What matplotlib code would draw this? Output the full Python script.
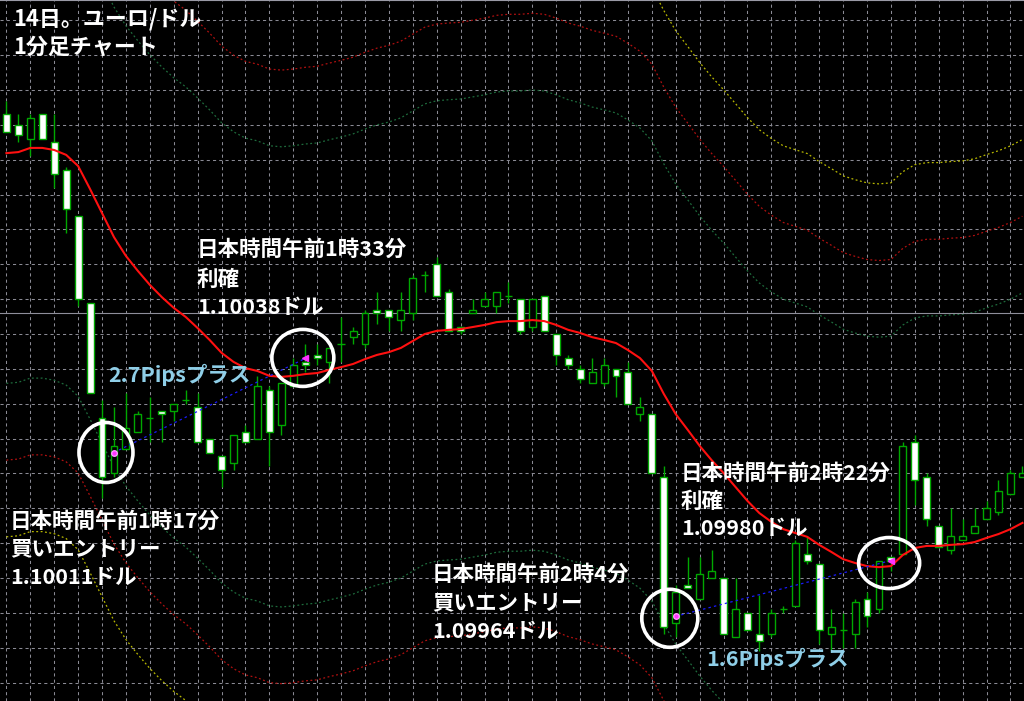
## EUR/USD 1-minute chart (MT4 style) with two trades marked

import numpy as np
import matplotlib
matplotlib.use('Agg')
import matplotlib.pyplot as plt
from matplotlib.patches import Ellipse

plt.rcParams['font.family'] = ['Noto Sans CJK JP', 'DejaVu Sans']

## candles, one per minute, left to right
opens = [1.10108, 1.10105, 1.10101, 1.10108, 1.10100, 1.10092, 1.10079, 1.10054, 1.10021, 1.10005,
         1.10012, 1.10017, 1.10021, 1.10023, 1.10023, 1.10026, 1.10024, 1.10015, 1.10010, 1.10008,
         1.10017, 1.10015, 1.10029, 1.10019, 1.10030, 1.10037, 1.10039, 1.10037, 1.10042, 1.10044,
         1.10042, 1.10052, 1.10052, 1.10049, 1.10051, 1.10062, 1.10065, 1.10057, 1.10047, 1.10051,
         1.10053, 1.10053, 1.10056, 1.10055, 1.10047, 1.10056, 1.10045, 1.10038, 1.10035, 1.10031,
         1.10031, 1.10035, 1.10034, 1.10022, 1.10022, 1.10004, 1.09962, 1.09973, 1.09969, 1.09975,
         1.09975, 1.09958, 1.09965, 1.09959, 1.09959, 1.09966, 1.09967, 1.09982, 1.09979, 1.09959,
         1.09960, 1.09959, 1.09969, 1.09966, 1.09981, 1.09982, 1.10014, 1.10004, 1.09990, 1.09983,
         1.09986, 1.09988, 1.09992, 1.09994, 1.09999, 1.10004]
highs = [1.10112, 1.10108, 1.10108, 1.10108, 1.10108, 1.10093, 1.10079, 1.10054, 1.10026, 1.10024,
         1.10028, 1.10023, 1.10027, 1.10023, 1.10025, 1.10029, 1.10028, 1.10015, 1.10010, 1.10016,
         1.10019, 1.10033, 1.10030, 1.10031, 1.10038, 1.10042, 1.10042, 1.10041, 1.10050, 1.10047,
         1.10052, 1.10057, 1.10052, 1.10057, 1.10062, 1.10063, 1.10067, 1.10058, 1.10047, 1.10055,
         1.10057, 1.10057, 1.10060, 1.10055, 1.10055, 1.10056, 1.10045, 1.10039, 1.10036, 1.10038,
         1.10038, 1.10035, 1.10037, 1.10027, 1.10022, 1.10007, 1.09973, 1.09981, 1.09981, 1.09983,
         1.09975, 1.09975, 1.09965, 1.09970, 1.09966, 1.09967, 1.09986, 1.09987, 1.09979, 1.09966,
         1.09965, 1.09969, 1.09971, 1.09980, 1.09981, 1.10014, 1.10016, 1.10005, 1.09990, 1.09995,
         1.09992, 1.09995, 1.09997, 1.10003, 1.10006, 1.10007]
lows = [1.10103, 1.10100, 1.10096, 1.10101, 1.10087, 1.10074, 1.10053, 1.10028, 1.09998, 1.10004,
        1.10012, 1.10017, 1.10014, 1.10014, 1.10020, 1.10025, 1.10014, 1.10011, 1.10001, 1.10006,
        1.10014, 1.10015, 1.10007, 1.10016, 1.10030, 1.10034, 1.10036, 1.10031, 1.10037, 1.10042,
        1.10041, 1.10048, 1.10046, 1.10046, 1.10049, 1.10057, 1.10056, 1.10046, 1.10045, 1.10051,
        1.10053, 1.10051, 1.10054, 1.10045, 1.10046, 1.10046, 1.10036, 1.10035, 1.10031, 1.10031,
        1.10030, 1.10027, 1.10025, 1.10020, 1.10005, 1.09959, 1.09958, 1.09972, 1.09969, 1.09975,
        1.09959, 1.09958, 1.09960, 1.09954, 1.09958, 1.09965, 1.09967, 1.09979, 1.09956, 1.09954,
        1.09955, 1.09955, 1.09961, 1.09965, 1.09977, 1.09982, 1.09996, 1.09990, 1.09984, 1.09982,
        1.09986, 1.09988, 1.09992, 1.09993, 1.09999, 1.10004]
closes = [1.10103, 1.10102, 1.10107, 1.10101, 1.10091, 1.10081, 1.10055, 1.10028, 1.10004, 1.10013,
          1.10018, 1.10022, 1.10021, 1.10022, 1.10025, 1.10026, 1.10014, 1.10011, 1.10006, 1.10016,
          1.10014, 1.10030, 1.10017, 1.10031, 1.10036, 1.10036, 1.10038, 1.10041, 1.10042, 1.10046,
          1.10051, 1.10051, 1.10050, 1.10052, 1.10061, 1.10062, 1.10056, 1.10046, 1.10046, 1.10052,
          1.10055, 1.10057, 1.10056, 1.10046, 1.10055, 1.10046, 1.10039, 1.10036, 1.10032, 1.10034,
          1.10036, 1.10033, 1.10025, 1.10024, 1.10005, 1.09961, 1.09971, 1.09972, 1.09976, 1.09977,
          1.09959, 1.09966, 1.09960, 1.09957, 1.09965, 1.09966, 1.09985, 1.09980, 1.09960, 1.09961,
          1.09960, 1.09968, 1.09964, 1.09980, 1.09980, 1.10013, 1.10003, 1.09992, 1.09984, 1.09987,
          1.09987, 1.09990, 1.09995, 1.10000, 1.10005, 1.10005]

## moving average (red line)
ma = [1.100969, 1.100972, 1.100984, 1.100984, 1.100978, 1.100964, 1.100932, 1.100866, 1.100797, 1.100728,
      1.100674, 1.100631, 1.100591, 1.100556, 1.100525, 1.100499, 1.100467, 1.100433, 1.100396, 1.100370,
      1.100352, 1.100344, 1.100330, 1.100327, 1.100330, 1.100335, 1.100338, 1.100347, 1.100355, 1.100364,
      1.100378, 1.100390, 1.100398, 1.100410, 1.100430, 1.100450, 1.100459, 1.100462, 1.100464, 1.100470,
      1.100476, 1.100484, 1.100487, 1.100487, 1.100490, 1.100487, 1.100476, 1.100462, 1.100453, 1.100441,
      1.100433, 1.100424, 1.100404, 1.100381, 1.100344, 1.100278, 1.100220, 1.100175, 1.100129, 1.100088,
      1.100051, 1.100011, 1.099971, 1.099936, 1.099911, 1.099890, 1.099879, 1.099868, 1.099845, 1.099825,
      1.099804, 1.099793, 1.099784, 1.099781, 1.099784, 1.099816, 1.099836, 1.099842, 1.099842, 1.099845,
      1.099847, 1.099853, 1.099865, 1.099876, 1.099890, 1.099908]

## envelope widths (fraction of the average): green, red, yellow
env_width = [0.0006, 0.0008, 0.0010]
env_color = ['#1e6b3c', '#b01010', '#b8b800']

bid_price = 1.10051

## trades: (entry bar, entry price, exit bar, exit price)
trades = [(9, 1.10011, 25, 1.10038), (56, 1.09964, 74, 1.09980)]

W, H = 1024, 701
fig = plt.figure(figsize=(W / 100, H / 100), dpi=100, facecolor='black')
ax = fig.add_axes([0, 0, 1, 1], facecolor='black')

n = len(opens)
x = np.arange(n)
bar_px = 11.953           # pixels per bar
pip_px = 34.85            # pixels per pip
ax.set_xlim(-6.4 / bar_px, (W - 6.4) / bar_px)
ax.set_ylim(1.10011 - (H - 452.5) / pip_px * 0.0001, 1.10011 + 452.5 / pip_px * 0.0001)

## grid
ax.set_xticks(x[::2])
ax.set_yticks(np.round(np.arange(1.09945, 1.10140, 0.0001), 5))
ax.grid(True, color='#8a8a94', linestyle=(0, (3, 3)), linewidth=0.75)
ax.tick_params(length=0, labelbottom=False, labelleft=False)
for s in ['left', 'right', 'bottom']:
    ax.spines[s].set_visible(False)
ax.spines['top'].set_color('#9a9aa6')
ax.set_axisbelow(True)

ma_arr = np.array(ma)
for w, c in zip(env_width, env_color):
    ax.plot(x, ma_arr * (1 + w), color=c, ls=(0, (1.5, 2)), lw=0.9, zorder=1)
    ax.plot(x, ma_arr * (1 - w), color=c, ls=(0, (1.5, 2)), lw=0.9, zorder=1)

ax.axhline(bid_price, color='#8e8e9a', lw=0.8, zorder=1)

## candles
green = '#00a800'
ax.vlines(x, lows, highs, color=green, lw=1.0, zorder=2)
for i in range(n):
    o, c = opens[i], closes[i]
    if o == c:
        ax.hlines(o, i - 0.3, i + 0.3, color=green, lw=1.0, zorder=3)
        continue
    face = 'white' if c < o else 'black'
    ax.bar(i, abs(c - o), bottom=min(o, c), width=0.58, facecolor=face,
           edgecolor=green, linewidth=1.0, zorder=3)

ax.plot(x, ma, color='#ff1010', lw=1.5, zorder=4)

## trades
circle_px = [(-0.67, 0.0, 54, 60), (-0.2, -0.5, 62, 57), (-0.5, 2.0, 56, 58), (-0.15, 2.5, 61, 51)]
ci = 0
for e_i, e_p, x_i, x_p in trades:
    ax.plot([e_i, x_i], [e_p, x_p], color='#1a1aff', ls=(0, (2, 2.5)), lw=0.9, zorder=5)
    ax.plot(e_i, e_p, marker='o', ms=4, color='#ff33ff', mec='#ff99ff', zorder=6)
    ax.plot(x_i, x_p, marker='<', ms=5, color='#ff33ff', zorder=6)
    for bi, bp in [(e_i, e_p), (x_i, x_p)]:
        dx, dy, wpx, hpx = circle_px[ci]
        ci += 1
        ax.add_patch(Ellipse((bi + dx, bp - dy / pip_px * 0.0001), wpx / bar_px,
                             hpx / pip_px * 0.0001, fill=False, ec='white', lw=2.6, zorder=7))

## text
def label(px, py, s, color='white', size=15.5):
    fig.text(px / W, 1 - py / H, s, color=color, fontsize=size, fontweight='bold',
             ha='left', va='center')

label(13, 19, '14日。ユーロ/ドル', size=15.8)
label(13, 47, '1分足チャート', size=15.8)

label(197, 249, '日本時間午前1時33分')
label(197, 279, '利確')
label(197, 307, '1.10038ドル')
label(108, 375, '2.7Pipsプラス', color='#8fcfe8')

label(10, 521, '日本時間午前1時17分')
label(10, 549, '買いエントリー')
label(10, 577, '1.10011ドル')

label(432, 574, '日本時間午前2時4分')
label(432, 603, '買いエントリー')
label(432, 631, '1.09964ドル')

label(681, 473, '日本時間午前2時22分')
label(681, 501, '利確')
label(681, 528, '1.09980ドル')
label(706, 659, '1.6Pipsプラス', color='#8fcfe8')

fig.savefig('out.png', dpi=100, facecolor='black')
